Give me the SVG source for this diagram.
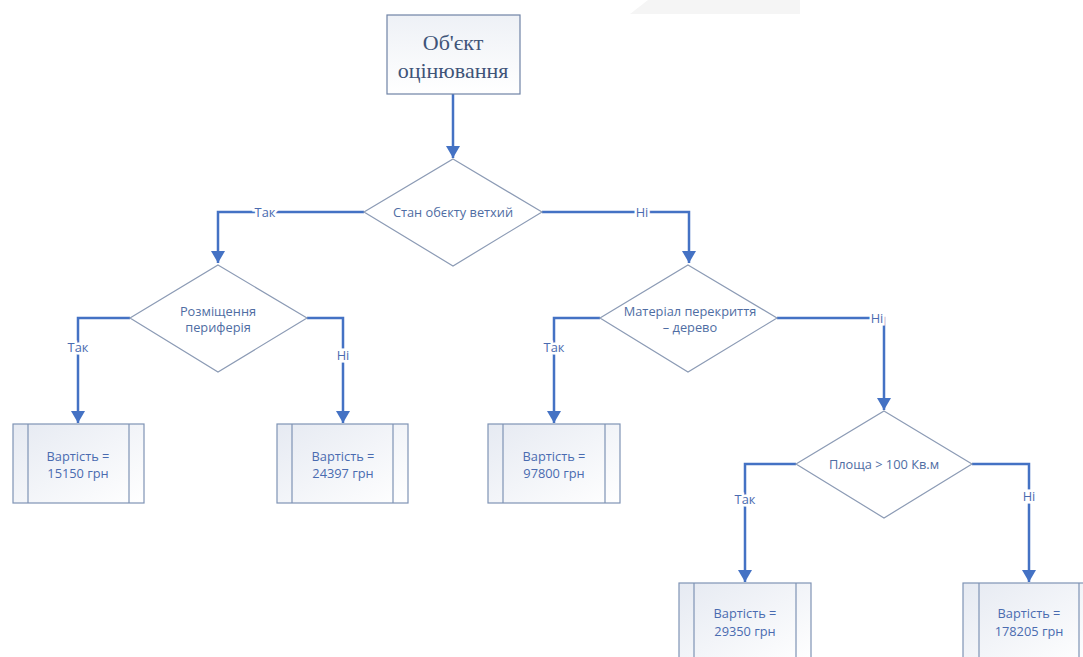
<svg xmlns="http://www.w3.org/2000/svg" width="1083" height="657" viewBox="0 0 1083 657">
<style>
.dia{fill:#ffffff;stroke:#8c9bb5;stroke-width:1.2}
.box{fill:url(#bg);stroke:#7f93b5;stroke-width:1.2}
.strip{fill:none;stroke:#7f93b5;stroke-width:1.2}
.con{fill:none;stroke:#4472c4;stroke-width:2.5;marker-end:url(#arr)}
.t{font-family:"Open Sans","Noto Sans",sans-serif;font-size:12.8px;fill:#4f6da3;text-anchor:middle;dominant-baseline:central}
.bt{font-family:"Open Sans","Noto Sans",sans-serif;font-size:12.8px;fill:#4a6bb0;text-anchor:middle;dominant-baseline:central}
.lbl{font-family:"Open Sans","Noto Sans",sans-serif;font-size:12.8px;fill:#4a6bb0;text-anchor:middle;dominant-baseline:central;stroke:#ffffff;stroke-width:5;paint-order:stroke}
.top{font-family:"Liberation Serif","DejaVu Serif",serif;font-size:22px;fill:#3f5478;text-anchor:middle;dominant-baseline:central}
</style>
<defs>
<linearGradient id="bg" x1="0" y1="0" x2="1" y2="1">
<stop offset="0" stop-color="#e6eaf2"/>
<stop offset="1" stop-color="#ffffff"/>
</linearGradient>
<linearGradient id="tg" x1="0" y1="0" x2="0" y2="1">
<stop offset="0" stop-color="#eef1f6"/>
<stop offset="1" stop-color="#ffffff"/>
</linearGradient>
<marker id="arr" markerUnits="userSpaceOnUse" markerWidth="14" markerHeight="14" viewBox="0 0 14 14" refX="13" refY="7" orient="auto">
<path d="M1,0 L13,7 L1,14 Z" fill="#4472c4"/>
</marker>
</defs>
<rect width="1083" height="657" fill="#ffffff"/>
<polygon points="630,14 648,0 800,0 800,14" fill="#f5f5f5"/>

<g id="connectors">
<path class="con" d="M453,94 V158"/>
<path class="con" d="M364,212 H218 V263"/>
<path class="con" d="M542,212 H689 V263"/>
<path class="con" d="M130,318 H78 V423"/>
<path class="con" d="M307,318 H343 V423"/>
<path class="con" d="M600,318 H554 V423"/>
<path class="con" d="M777,318 H884 V410"/>
<path class="con" d="M796,464 H745 V582"/>
<path class="con" d="M972,464 H1029 V582"/>
<text class="lbl" x="265" y="212">Так</text>
<text class="lbl" x="642" y="212">Ні</text>
<text class="lbl" x="78" y="347">Так</text>
<text class="lbl" x="343" y="355">Ні</text>
<text class="lbl" x="554" y="347">Так</text>
<text class="lbl" x="877" y="318">Ні</text>
<text class="lbl" x="745" y="499">Так</text>
<text class="lbl" x="1029" y="496">Ні</text>
</g>

<g id="start">
<rect x="387" y="15" width="133" height="79" fill="url(#tg)" stroke="#6f83a6" stroke-width="1.2"/>
<text class="top" x="453" y="42">Об'єкт</text>
<text class="top" x="453" y="70">оцінювання</text>
</g>

<g id="d1">
<polygon class="dia" points="453,159 542,212 453,266 364,212"/>
<text class="t" x="453" y="212">Стан обєкту ветхий</text>
</g>

<g id="d2">
<polygon class="dia" points="218,265 307,318 218,372 130,318"/>
<text class="t" x="218" y="311">Розміщення</text>
<text class="t" x="218" y="327">периферія</text>
</g>

<g id="d3">
<polygon class="dia" points="688,265 777,318 688,372 600,318"/>
<text class="t" x="690" y="311">Матеріал перекриття</text>
<text class="t" x="690" y="327">– дерево</text>
</g>

<g id="d4">
<polygon class="dia" points="884,411 972,464 884,518 796,464"/>
<text class="t" x="884" y="464">Площа &gt; 100 Кв.м</text>
</g>

<g id="b1">
<rect class="box" x="13" y="424" width="131" height="79"/>
<path class="strip" d="M28,424 V503 M129,424 V503"/>
<text class="bt" x="78" y="456">Вартість =</text>
<text class="bt" x="78" y="473">15150 грн</text>
</g>

<g id="b2">
<rect class="box" x="277" y="424" width="131" height="79"/>
<path class="strip" d="M292,424 V503 M393,424 V503"/>
<text class="bt" x="343" y="456">Вартість =</text>
<text class="bt" x="343" y="473">24397 грн</text>
</g>

<g id="b3">
<rect class="box" x="488" y="424" width="132" height="79"/>
<path class="strip" d="M503,424 V503 M605,424 V503"/>
<text class="bt" x="554" y="456">Вартість =</text>
<text class="bt" x="554" y="473">97800 грн</text>
</g>

<g id="b4">
<rect class="box" x="679" y="583" width="132" height="80"/>
<path class="strip" d="M694,583 V663 M796,583 V663"/>
<text class="bt" x="745" y="613">Вартість =</text>
<text class="bt" x="745" y="631">29350 грн</text>
</g>

<g id="b5">
<rect class="box" x="963" y="583" width="131" height="80"/>
<path class="strip" d="M979,583 V663 M1079,583 V663"/>
<text class="bt" x="1029" y="613">Вартість =</text>
<text class="bt" x="1029" y="631">178205 грн</text>
</g>
</svg>
